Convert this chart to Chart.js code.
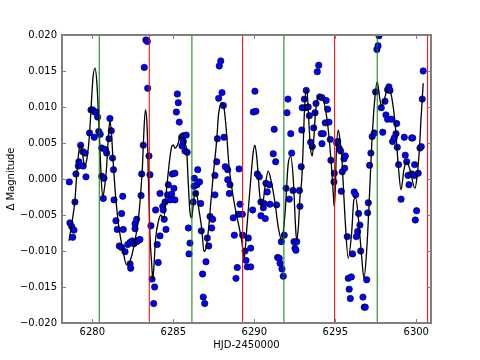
<!DOCTYPE html>
<html>
<head>
<meta charset="utf-8">
<script src="https://cdnjs.cloudflare.com/ajax/libs/Chart.js/4.4.1/chart.umd.min.js"></script>
<style>
  html,body{margin:0;padding:0;background:#fff;}
  #c{display:block;}
</style>
</head>
<body>
<canvas id="c" width="480" height="360"></canvas>
<script>
// Observed light curve: time (HJD-2450000) and delta magnitude
const OBS_T = [
  6278.58,6278.62,6278.73,6278.87,6278.79,6278.93,6278.99,6279.14,6279.17,6279.28,6279.41,6279.55,6279.44,6279.61,
  6279.83,6279.92,6280.02,6280.15,6280.23,6280.33,6280.12,6280.40,6280.49,6280.58,6280.81,6280.89,6280.58,6280.72,
  6280.68,6281.09,6281.17,6281.03,6281.25,6281.31,6281.34,
  6281.46,6281.54,6281.91,6281.67,6281.81,6282.02,6281.88,6281.81,6282.19,6282.33,6282.47,6282.57,6282.74,6282.86,
  6282.94,6282.64,6282.74,6282.64,6282.33,6282.37,6283.01,6283.05,6283.15,6283.21,6283.31,6283.40,6283.42,6283.50,6283.56,
  6283.62,6283.69,6283.85,6283.79,6283.91,6284.18,6284.01,6284.07,6284.18,6284.35,6284.38,6284.49,6284.44,6284.55,
  6284.69,6284.64,6284.80,6284.90,6285.04,6285.10,6284.94,6285.10,6285.19,6285.25,6285.31,6285.37,6285.52,6285.62,
  6285.80,6285.54,6285.62,6285.72,6285.86,6285.93,6286.03,6285.97,6286.23,6286.30,6286.38,6286.28,6286.46,6286.51,
  6286.62,6286.69,
  6286.73,6286.81,6286.85,6286.94,6287.02,6287.10,6287.19,6287.27,6287.37,6287.43,6287.57,6287.57,6287.68,6287.72,
  6287.80,6287.84,6287.93,6288.01,6288.09,6288.13,6288.21,6288.36,6288.36,6288.50,6288.46,6288.70,6288.77,6288.87,
  6288.95,6289.01,6289.26,6289.12,6289.06,6289.28,6289.43,6289.49,6289.57,6289.78,6289.63,6289.78,6289.90,6289.94,
  6290.10,6290.04,6290.19,6290.31,
  6290.41,6290.60,6290.56,6290.41,6290.68,6290.72,6290.93,6290.80,6290.97,6291.17,6291.32,6291.23,6291.38,6291.44,
  6291.54,6291.59,6291.71,6291.79,6291.67,6291.85,6291.96,6292.02,6292.08,6292.25,6292.31,6292.39,6292.16,6292.45,
  6292.62,6292.51,6292.57,6292.79,6292.82,
  6292.90,6292.93,6292.96,6293.09,6293.15,6293.21,6293.33,6293.40,6293.48,6293.58,6293.67,6293.75,6293.81,6293.89,
  6293.98,6294.04,6294.18,6294.44,6294.53,6294.38,6294.61,6294.14,6294.26,6294.18,6294.69,6294.73,6294.94,6294.92,
  6295.09,6295.15,6295.25,6295.33,6295.43,6295.58,6295.54,6295.62,6295.37,
  6295.74,6296.07,6296.17,6296.26,6296.44,6296.52,6296.38,6296.30,6296.57,6297.04,6297.00,6295.80,6295.99,6295.86,
  6295.93,6296.94,6296.71,6296.79,6296.85,6297.12,6297.20,6297.28,6297.41,6297.49,6297.57,6297.64,6297.70,
  6297.84,6297.93,6298.07,6298.13,6298.23,6298.48,6298.23,6298.31,6298.38,6298.54,6298.64,6298.75,6298.79,6298.83,
  6298.91,6299.06,6299.26,6299.32,6299.41,6299.49,6299.55,6299.72,6299.78,6299.72,6299.90,6299.88,6300.12,6300.02,
  6299.94,6300.23,6300.31,6300.37,6300.43
];
const OBS_MAG = [
  -0.0004,-0.0061,-0.0066,-0.0071,-0.0081,-0.0032,0.0007,0.0018,0.0024,0.0047,0.0038,0.0036,0.0018,0.0003,
  0.0064,0.0096,0.0096,0.0093,0.0093,0.0086,0.0058,0.0066,0.0062,0.0043,0.0041,0.0036,0.0004,0.0001,
  -0.0027,0.0084,0.0067,0.0056,0.0029,0.0013,-0.0029,
  -0.0058,-0.0070,-0.0070,-0.0093,-0.0095,-0.0101,-0.0024,-0.0048,-0.0091,-0.0088,-0.0086,-0.0090,-0.0087,-0.0085,
  -0.0084,-0.0062,-0.0056,-0.0069,-0.0118,-0.0124,-0.0023,0.0007,0.0047,0.0155,0.0193,0.0191,0.0126,0.0032,0.0006,
  -0.0065,-0.0139,-0.0150,-0.0173,-0.0043,-0.0079,-0.0091,-0.0116,-0.0020,-0.0038,-0.0043,-0.0032,-0.0056,-0.0070,
  -0.0008,-0.0022,-0.0029,-0.0021,-0.0013,-0.0029,0.0007,0.0008,0.0093,0.0118,0.0106,0.0079,0.0058,0.0060,
  0.0061,0.0046,0.0052,0.0039,0.0037,-0.0068,-0.0089,-0.0104,-0.0032,0.0001,-0.0020,-0.0010,-0.0008,0.0013,
  -0.0004,-0.0034,
  -0.0072,-0.0132,-0.0164,-0.0173,-0.0115,-0.0082,-0.0093,-0.0052,-0.0068,-0.0056,0.0005,-0.0022,0.0024,0.0056,
  0.0112,0.0157,0.0164,0.0120,0.0102,0.0058,0.0017,0.0013,-0.0001,-0.0008,-0.0020,-0.0054,-0.0078,-0.0138,
  -0.0123,-0.0049,-0.0049,-0.0035,0.0014,-0.0078,-0.0100,-0.0113,-0.0122,-0.0122,-0.0082,-0.0096,-0.0043,0.0093,
  0.0094,0.0122,0.0007,0.0003,
  -0.0032,-0.0034,-0.0040,-0.0051,-0.0055,-0.0006,-0.0008,-0.0018,-0.0035,0.0035,0.0024,0.0069,-0.0036,-0.0109,
  -0.0110,-0.0117,-0.0125,-0.0135,-0.0087,-0.0078,-0.0013,0.0092,0.0111,0.0063,0.0036,-0.0016,-0.0028,-0.0087,
  -0.0087,-0.0096,-0.0099,-0.0016,-0.0038,
  0.0017,0.0068,0.0099,0.0111,0.0099,0.0123,0.0100,0.0088,0.0051,0.0045,0.0071,0.0092,0.0105,0.0149,
  0.0158,0.0114,0.0113,0.0109,0.0097,0.0078,0.0079,0.0063,0.0063,0.0049,0.0055,0.0026,0.0008,-0.0004,
  0.0050,0.0052,0.0042,0.0039,0.0010,0.0015,0.0028,0.0032,-0.0017,
  -0.0080,-0.0104,-0.0018,-0.0022,-0.0048,-0.0064,-0.0073,-0.0080,-0.0100,-0.0033,-0.0047,-0.0138,-0.0136,-0.0153,
  -0.0166,-0.0140,-0.0164,-0.0178,-0.0178,0.0019,0.0036,0.0059,0.0064,0.0121,0.0180,0.0185,0.0199,
  0.0099,0.0065,0.0108,0.0089,0.0083,0.0083,0.0124,0.0128,0.0123,0.0052,0.0057,0.0063,0.0077,0.0044,
  0.0020,-0.0028,0.0058,0.0033,0.0024,0.0005,-0.0008,0.0057,0.0057,0.0007,0.0020,0.0005,0.0008,-0.0044,
  -0.0057,0.0043,0.0045,0.0111,0.0150
];

// Model fit, vertices
const FIT_T = [
  6278.56,6278.75,6278.93,6279.04,6279.18,6279.28,6279.41,6279.52,6279.65,6279.80,6279.92,6280.04,6280.17,6280.29,
  6280.41,6280.54,6280.64,6280.75,6280.89,6281.00,6281.09,6281.19,6281.30,6281.46,6281.60,6281.77,6281.91,6282.11,
  6282.27,6282.43,6282.64,6282.84,6282.98,6283.10,6283.19,6283.28,6283.38,6283.46,6283.56,6283.67,6283.73,6283.81,
  6283.90,6284.07,6284.24,6284.40,6284.59,6284.80,6284.92,6285.01,6285.10,6285.31,6285.41,6285.56,6285.72,6285.83,
  6285.93,6286.03,6286.14,6286.23,6286.34,6286.44,6286.54,6286.75,6286.90,6287.02,6287.17,6287.33,6287.47,6287.68,
  6287.79,6287.88,6288.01,6288.13,6288.30,6288.41,6288.50,6288.70,6288.87,6289.01,6289.22,6289.38,6289.53,6289.73,
  6289.94,6290.04,6290.15,6290.35,6290.49,6290.66,6290.86,6291.07,6291.28,6291.48,6291.69,6291.90,6292.10,6292.25,
  6292.41,6292.56,6292.62,6292.73,6292.82,6292.93,6293.01,6293.10,6293.21,6293.28,6293.38,6293.47,6293.58,6293.69,
  6293.78,6293.95,6294.16,6294.36,6294.57,6294.78,6294.88,6294.94,6295.01,6295.07,6295.19,6295.29,6295.40,6295.49,
  6295.60,6295.80,6296.01,6296.15,6296.26,6296.42,6296.63,6296.77,6296.94,6297.10,6297.25,6297.45,6297.59,6297.76,
  6297.86,6298.07,6298.27,6298.48,6298.69,6298.89,6299.06,6299.24,6299.41,6299.61,6299.92,6300.06,6300.19,6300.29,
  6300.43
];
const FIT_MAG = [
  -0.0086,-0.0060,-0.0029,0.0006,0.0040,0.0047,0.0033,0.0019,0.0026,0.0054,0.0096,0.0140,0.0154,0.0131,
  0.0075,0.0006,-0.0025,-0.0013,0.0019,0.0061,0.0081,0.0061,0.0019,-0.0029,-0.0060,-0.0085,-0.0101,-0.0119,
  -0.0117,-0.0107,-0.0085,-0.0057,-0.0022,0.0019,0.0068,0.0096,0.0075,0.0006,-0.0078,-0.0119,-0.0140,-0.0119,
  -0.0085,-0.0060,-0.0050,-0.0056,-0.0013,0.0031,0.0046,0.0047,0.0043,0.0050,0.0060,0.0063,0.0050,0.0038,
  -0.0008,-0.0046,-0.0054,-0.0036,-0.0019,-0.0018,-0.0036,-0.0068,-0.0101,-0.0096,-0.0071,-0.0029,0.0006,0.0054,
  0.0089,0.0101,0.0106,0.0099,0.0061,0.0026,0.0006,-0.0025,-0.0046,-0.0061,-0.0085,-0.0110,-0.0071,-0.0015,
  0.0038,0.0047,0.0031,-0.0025,-0.0039,-0.0011,0.0011,-0.0006,-0.0033,-0.0067,-0.0085,-0.0047,0.0022,0.0031,
  -0.0001,-0.0071,-0.0085,-0.0064,-0.0025,-0.0001,0.0040,0.0096,0.0124,0.0117,0.0075,0.0043,0.0032,0.0061,
  0.0092,0.0114,0.0115,0.0101,0.0068,0.0013,-0.0022,-0.0039,-0.0008,0.0040,0.0068,0.0054,0.0031,-0.0006,
  -0.0053,-0.0110,-0.0075,-0.0029,-0.0026,-0.0053,-0.0108,-0.0138,-0.0099,-0.0029,0.0047,0.0114,0.0135,0.0110,
  0.0101,0.0114,0.0128,0.0114,0.0078,0.0019,-0.0015,0.0013,0.0024,0.0013,-0.0013,0.0006,0.0040,0.0082,
  0.0133
];

// Marker epochs (vertical lines)
const GREEN_T = [6280.43, 6286.15, 6291.83, 6297.59];
const RED_T   = [6283.52, 6289.28, 6294.96, 6300.70];

const X_TICKS = [6280, 6285, 6290, 6295, 6300];
const Y_TICKS = [-0.020,-0.015,-0.010,-0.005,0.000,0.005,0.010,0.015,0.020];
const X_MIN = 6278.13, X_MAX = 6300.91, Y_MIN = -0.020, Y_MAX = 0.020;

const pts = (xs, ys) => xs.map((x,i) => ({x, y: ys[i]}));
const vline = (t, color) => ({
  data: [{x:t, y:Y_MIN}, {x:t, y:Y_MAX}], showLine:true, pointRadius:0,
  borderColor: color, borderWidth: 1, order: 1
});
const FONT = {family:'"DejaVu Sans", sans-serif', size:10};

// gray frame with inward ticks on all four sides (matplotlib look)
const frame = {
  id:'frame',
  afterDraw(chart){
    const {ctx, chartArea:a, scales:{x, y}} = chart;
    ctx.save();
    ctx.strokeStyle = '#808080';
    ctx.lineWidth = 1;
    ctx.beginPath();
    X_TICKS.forEach(v => {
      const px = Math.round(x.getPixelForValue(v)) + 0.5;
      ctx.moveTo(px, a.bottom); ctx.lineTo(px, a.bottom - 4);
      ctx.moveTo(px, a.top);    ctx.lineTo(px, a.top + 4);
    });
    Y_TICKS.forEach(v => {
      const py = Math.round(y.getPixelForValue(v)) + 0.5;
      ctx.moveTo(a.left, py);  ctx.lineTo(a.left + 4, py);
      ctx.moveTo(a.right, py); ctx.lineTo(a.right - 4, py);
    });
    ctx.stroke();
    ctx.lineWidth = 2;
    ctx.strokeRect(a.left, a.top, a.right - a.left, a.bottom - a.top);
    ctx.restore();
  }
};

new Chart(document.getElementById('c'), {
  type: 'scatter',
  data: { datasets: [
    ...GREEN_T.map(t => vline(t, '#008000')),
    ...RED_T.map(t => vline(t, '#ff0000')),
    { data: pts(FIT_T, FIT_MAG), showLine:true, pointRadius:0, borderColor:'#000',
      borderWidth:1.3, cubicInterpolationMode:'monotone', order:2 },
    { data: pts(OBS_T, OBS_MAG), pointRadius:3.2, backgroundColor:'#0000ff',
      borderColor:'#000', borderWidth:0.6, order:3 },
  ]},
  options: {
    responsive:false, animation:false,
    layout:{padding:{top:35, right:49, left:0, bottom:0}},
    plugins:{legend:{display:false}, tooltip:{enabled:false}},
    scales:{
      x:{ type:'linear', min:X_MIN, max:X_MAX,
          afterBuildTicks: s => { s.ticks = X_TICKS.map(v => ({value:v})); },
          afterFit: s => { s.height = 37; },
          grid:{display:false, drawTicks:false}, border:{display:false},
          ticks:{color:'#000', font:FONT, padding:3, maxRotation:0, callback: v => String(v)},
          title:{display:true, text:'HJD-2450000', color:'#000', font:FONT, padding:{top:0, bottom:9}} },
      y:{ min:Y_MIN, max:Y_MAX,
          afterBuildTicks: s => { s.ticks = Y_TICKS.map(v => ({value:v})); },
          afterFit: s => { s.width = 62; },
          grid:{display:false, drawTicks:false}, border:{display:false},
          ticks:{color:'#000', font:FONT, padding:5,
                 callback: v => (Math.abs(v) < 1e-9 ? '0.000' : v.toFixed(3).replace('-', '\u2212'))},
          title:{display:true, text:'\u0394 Magnitude', color:'#000', font:FONT, padding:{top:5, bottom:0}} }
    }
  },
  plugins:[frame]
});
</script>
</body>
</html>
